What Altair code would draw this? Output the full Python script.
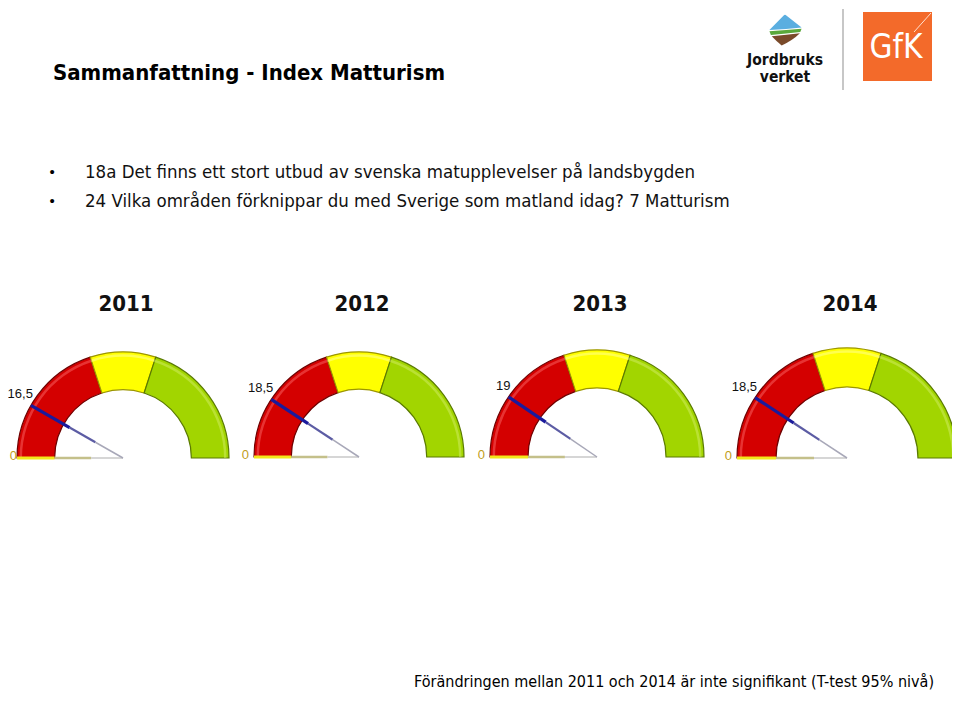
import math
import altair as alt
import pandas as pd

# ---------------- data ----------------
YEARS = ["2011", "2012", "2013", "2014"]
VALUES = [16.5, 18.5, 19, 18.5]
SCALE_MIN = 0
SCALE_MAX = 100
BAND_NAMES = ["låg", "medel", "hög"]
BAND_START = [0, 40, 60]
BAND_END = [40, 60, 100]

TITLE = "Sammanfattning - Index Matturism"
BULLETS = [
    "18a Det finns ett stort utbud av svenska matupplevelser på landsbygden",
    "24 Vilka områden förknippar du med Sverige som matland idag? 7 Matturism",
]
FOOTNOTE = "Förändringen mellan 2011 och 2014 är inte signifikant (T-test 95% nivå)"

# ---------------- layout (reference pixel coordinates) ----------------
W, H = 944, 685
GAUGE_CX = [123, 359, 597, 847]
GAUGE_CY = [458, 457, 457, 458]
GAUGE_R = [106, 105, 107, 110]
INNER = 0.645
YEAR_Y = 311

BAND_FILL = ["#d40000", "#ffff00", "#a2d500"]
BAND_STROKE = ["#6e0000", "#9c9600", "#5a7a00"]
BAND_HI = ["#ff7070", "#ffffb0", "#d8f070"]

XS = alt.Scale(domain=[8, 8 + W], range=[0, W], nice=False, zero=False)
YS = alt.Scale(domain=[8, 8 + H], range=[0, H], nice=False, zero=False)
TS = alt.Scale(domain=[SCALE_MIN, SCALE_MAX], range=[-math.pi / 2, math.pi / 2])

gauges = pd.DataFrame({
    "year": YEARS,
    "value": VALUES,
    "cx": GAUGE_CX,
    "cy": GAUGE_CY,
    "r": GAUGE_R,
})
gauges["label"] = [f"{v:g}".replace(".", ",") for v in VALUES]

bands = pd.DataFrame([
    {"year": y, "cx": cx, "cy": cy, "r": r, "rin": r * INNER,
     "rhi": r - 2.5, "rhi2": r - 5,
     "band": b, "start": s, "end": e}
    for y, cx, cy, r in zip(YEARS, GAUGE_CX, GAUGE_CY, GAUGE_R)
    for b, s, e in zip(BAND_NAMES, BAND_START, BAND_END)
])

one = pd.DataFrame({"a": [0]})

def X(f):
    return alt.X(f, scale=XS, axis=None)

def Y(f):
    return alt.Y(f, scale=YS, axis=None)

# bands
band_layer = alt.Chart(bands).mark_arc(strokeWidth=1.2).encode(
    x=X("cx:Q"), y=Y("cy:Q"),
    theta=alt.Theta("start:Q", scale=TS),
    theta2="end:Q",
    radius=alt.Radius("r:Q", scale=None),
    radius2="rin:Q",
    fill=alt.Fill("band:N", scale=alt.Scale(domain=BAND_NAMES, range=BAND_FILL), legend=None),
    stroke=alt.Stroke("band:N", scale=alt.Scale(domain=BAND_NAMES, range=BAND_STROKE), legend=None),
)
hi_layer = alt.Chart(bands).mark_arc(opacity=0.45).encode(
    x=X("cx:Q"), y=Y("cy:Q"),
    theta=alt.Theta("start:Q", scale=TS),
    theta2="end:Q",
    radius=alt.Radius("rhi:Q", scale=None),
    radius2="rhi2:Q",
    color=alt.Color("band:N", scale=alt.Scale(domain=BAND_NAMES, range=BAND_HI), legend=None),
)

def seg(src, frac_a, frac_b, color, width, value_expr):
    ch = alt.Chart(src).transform_calculate(
        ang=f"PI * ({value_expr} - {SCALE_MIN}) / ({SCALE_MAX} - {SCALE_MIN})",
    ).transform_calculate(
        xa=f"datum.cx - datum.r * {frac_a} * cos(datum.ang)",
        ya=f"datum.cy - datum.r * {frac_a} * sin(datum.ang)",
        xb=f"datum.cx - datum.r * {frac_b} * cos(datum.ang)",
        yb=f"datum.cy - datum.r * {frac_b} * sin(datum.ang)",
    ).mark_rule(color=color, strokeWidth=width, strokeCap="butt").encode(
        x=X("xa:Q"), y=Y("ya:Q"), x2="xb:Q", y2="yb:Q",
    )
    return ch

# zero (minimum) needle
zero_layers = [
    seg(gauges, 1.0, INNER, "#f2e61a", 3, str(SCALE_MIN)),
    seg(gauges, INNER, 0.3, "#c4c08a", 2.5, str(SCALE_MIN)),
    seg(gauges, 0.3, 0.0, "#c8c8c8", 1.5, str(SCALE_MIN)),
]
# value needle
needle_layers = [
    seg(gauges, 1.0, 0.58, "#1a1a9c", 3.2, "datum.value"),
    seg(gauges, 0.58, 0.3, "#5c5ca4", 2.2, "datum.value"),
    seg(gauges, 0.3, 0.0, "#a8a8b8", 1.5, "datum.value"),
]

value_labels = alt.Chart(gauges).transform_calculate(
    ang=f"PI * (datum.value - {SCALE_MIN}) / ({SCALE_MAX} - {SCALE_MIN})",
).transform_calculate(
    tx="datum.cx - datum.r * cos(datum.ang)",
    ty="datum.cy - datum.r * sin(datum.ang)",
).mark_text(font="Liberation Sans", fontSize=13, align="right", baseline="middle",
            dx=2, dy=-11, color="#111111").encode(
    x=X("tx:Q"), y=Y("ty:Q"), text="label:N",
)

zero_labels = alt.Chart(gauges).transform_calculate(
    zx="max(datum.cx - datum.r - 5, 17)", zy="datum.cy - 2", zt=f"'{SCALE_MIN}'",
).mark_text(font="Liberation Sans", fontSize=13, align="right", baseline="middle",
            color="#bf9d20").encode(
    x=X("zx:Q"), y=Y("zy:Q"), text="zt:N",
)

year_labels = alt.Chart(gauges).transform_calculate(yy=f"{YEAR_Y}").mark_text(
    font="DejaVu Sans Condensed", fontWeight="bold", fontSize=22,
    align="center", baseline="alphabetic", color="#111111", dx=3,
).encode(x=X("cx:Q"), y=Y("yy:Q"), text="year:N")

def txt(text, x, y, **kw):
    return alt.Chart(one).mark_text(text=text, **kw).encode(
        x=alt.datum(x, scale=XS, axis=None), y=alt.datum(y, scale=YS, axis=None))

title = txt(TITLE, 53, 73, font="DejaVu Sans Condensed", fontWeight="bold",
            fontSize=22, align="left", baseline="middle", color="#000000")
bullet_layers = []
for i, b in enumerate(BULLETS):
    yy = 172 + i * 28.5
    bullet_layers.append(txt("•", 52, yy, font="Liberation Sans", fontSize=15,
                             align="center", baseline="middle", color="#000000"))
    bullet_layers.append(txt(b, 85, yy, font="DejaVu Sans Condensed", fontSize=18.5,
                             align="left", baseline="middle", color="#111111"))
foot = txt(FOOTNOTE, 934, 682, font="DejaVu Sans Condensed", fontSize=16,
           align="right", baseline="middle", color="#000000")

# logos (decorative)
sep = alt.Chart(one).mark_rule(color="#b5b5b5", strokeWidth=1.5).encode(
    x=alt.datum(843, scale=XS, axis=None), y=alt.datum(9, scale=YS, axis=None),
    y2=alt.datum(90))
gfk_box = alt.Chart(one).mark_rect(color="#f36a2a").encode(
    x=alt.datum(863, scale=XS, axis=None), x2=alt.datum(932),
    y=alt.datum(12, scale=YS, axis=None), y2=alt.datum(81))
gfk_txt = txt("GfK", 896, 48, font="DejaVu Sans Condensed", fontSize=33,
              align="center", baseline="middle", color="#ffffff")
gfk_line = alt.Chart(one).mark_rule(color="#ffe0d0", strokeWidth=1).encode(
    x=alt.datum(914, scale=XS, axis=None), x2=alt.datum(931),
    y=alt.datum(32, scale=YS, axis=None), y2=alt.datum(13))

blue_path = "M-0.94,0 L-0.08,-0.88 Q0,-0.95 0.08,-0.88 L1,-0.15 Q0.1,-0.05 -0.94,0 Z"
green_path = "M-0.94,0.08 Q0.1,0.02 1,-0.07 L0.92,0.12 Q0.1,0.2 -0.85,0.3 Z"
brown_path = "M-0.8,0.38 Q0.1,0.28 0.9,0.2 Q0.5,0.6 -0.2,0.94 Q-0.5,0.7 -0.8,0.38 Z"
logo_parts = []
for p, c in [(blue_path, "#5aaee0"), (green_path, "#5aa83a"), (brown_path, "#7a4a2a")]:
    logo_parts.append(alt.Chart(one).mark_point(shape=p, size=1100, filled=True,
                                                color=c, opacity=1).encode(
        x=alt.datum(785, scale=XS, axis=None), y=alt.datum(30, scale=YS, axis=None)))
jb1 = txt("Jordbruks", 785, 60, font="DejaVu Sans Condensed", fontWeight="bold",
          fontSize=15.5, align="center", baseline="middle", color="#111111")
jb2 = txt("verket", 785, 77, font="DejaVu Sans Condensed", fontWeight="bold",
          fontSize=15.5, align="center", baseline="middle", color="#111111")

chart = alt.layer(
    band_layer, hi_layer, *zero_layers, *needle_layers, value_labels, zero_labels,
    year_labels, title, *bullet_layers, foot, sep, gfk_box, gfk_txt, gfk_line,
    *logo_parts, jb1, jb2,
).properties(
    width=W, height=H, autosize=alt.AutoSizeParams(type="none"), padding=0,
    background="#ffffff",
).configure_view(stroke=None)

chart.save("out.html", embed_options={"renderer": "svg", "actions": False})
